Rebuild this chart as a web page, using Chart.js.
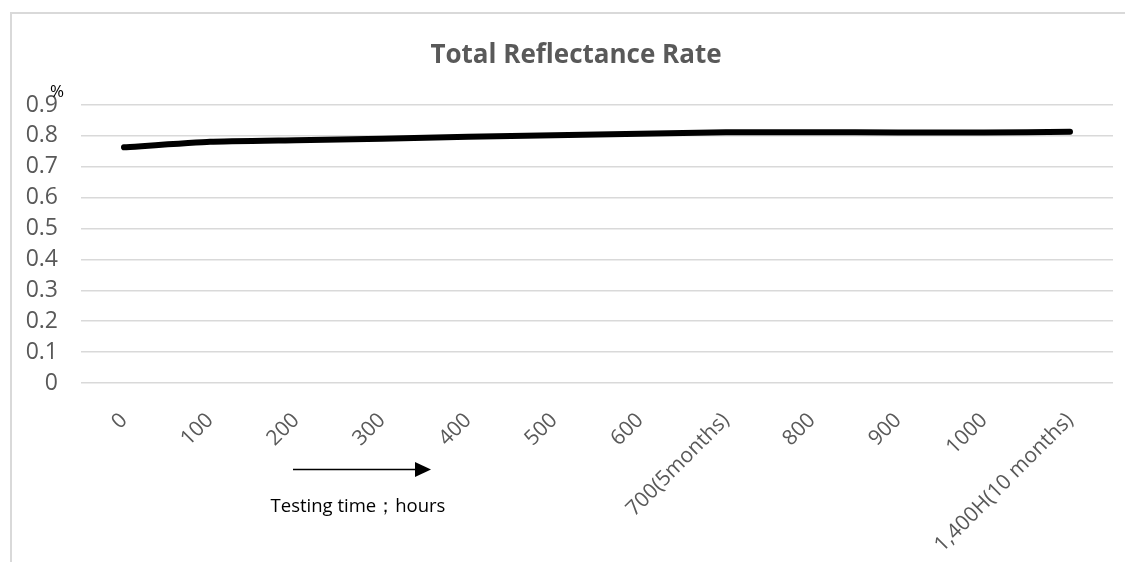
<!DOCTYPE html>
<html>
<head>
<meta charset="utf-8">
<script src="https://cdn.jsdelivr.net/npm/chart.js@4/dist/chart.umd.min.js"></script>
<style>
  html, body { margin: 0; padding: 0; background: #fff; }
  #wrap { position: relative; width: 1125px; height: 562px; }
</style>
</head>
<body>
<div id="wrap"><canvas id="chart" width="1125" height="562"></canvas></div>
<script>
'use strict';

// ─── Data ──────────────────────────────────────────────────────────────────────
const hourLabels = ['0', '100', '200', '300', '400', '500', '600', '700(5months)',
                    '800', '900', '1000', '1,400H(10 months)'];
const reflectance = [0.763, 0.781, 0.786, 0.791, 0.797, 0.802, 0.807, 0.812,
                     0.812, 0.811, 0.811, 0.813];
const yTicks = [0, 0.1, 0.2, 0.3, 0.4, 0.5, 0.6, 0.7, 0.8, 0.9];
const chartTitle = 'Total Reflectance Rate';

const FONT = "'Open Sans', 'DejaVu Sans', sans-serif";
const GREY = '#595959';
const GRID = '#d9d9d9';

// ─── Extras: frame, title, unit label, arrow + axis caption ───────────────────
const extras = {
  id: 'extras',
  beforeDraw(chart) {
    const ctx = chart.ctx;
    ctx.save();
    ctx.strokeStyle = GRID;
    ctx.lineWidth = 2;
    ctx.beginPath();
    ctx.moveTo(11, 600);
    ctx.lineTo(11, 13);
    ctx.lineTo(1200, 13);
    ctx.stroke();
    ctx.restore();
  },
  afterDraw(chart) {
    const ctx = chart.ctx;
    ctx.save();
    ctx.fillStyle = GREY;
    ctx.font = `bold 26px ${FONT}`;
    ctx.textAlign = 'center';
    ctx.textBaseline = 'middle';
    ctx.fillText(chartTitle, 576, 56);

    ctx.fillStyle = '#000';
    ctx.font = `17px ${FONT}`;
    ctx.textAlign = 'left';
    ctx.fillText('%', 50, 92);

    // arrow
    ctx.strokeStyle = '#000';
    ctx.lineWidth = 1.5;
    ctx.beginPath();
    ctx.moveTo(293, 469.5);
    ctx.lineTo(418, 469.5);
    ctx.stroke();
    ctx.beginPath();
    ctx.moveTo(431, 469.5);
    ctx.lineTo(415, 462);
    ctx.lineTo(415, 477);
    ctx.closePath();
    ctx.fill();

    ctx.font = `18.5px ${FONT}`;
    ctx.textAlign = 'center';
    ctx.fillText('Testing time；hours', 358, 507);
    ctx.restore();
  }
};

new Chart(document.getElementById('chart'), {
  type: 'line',
  data: {
    labels: hourLabels,
    datasets: [{
      label: chartTitle,
      data: reflectance,
      borderColor: '#000',
      borderWidth: 6,
      borderCapStyle: 'round',
      borderJoinStyle: 'round',
      pointRadius: 0,
      tension: 0.15,
      fill: false,
    }]
  },
  options: {
    responsive: false,
    animation: false,
    layout: { padding: { left: 11, right: 12, top: 105, bottom: 0 } },
    plugins: {
      legend: { display: false },
      tooltip: { enabled: false },
      title: { display: false }
    },
    scales: {
      x: {
        offset: true,
        grid: { display: false },
        border: { display: false },
        ticks: {
          color: GREY,
          font: { family: FONT, size: 21 },
          minRotation: 45,
          maxRotation: 45,
          autoSkip: false,
          padding: 17,
        },
        afterFit(scale) { scale.height = 179; }
      },
      y: {
        min: 0,
        max: 0.9,
        afterBuildTicks(scale) { scale.ticks = yTicks.map(v => ({ value: v })); },
        grid: { color: GRID, lineWidth: 1.5, drawTicks: false },
        border: { display: false },
        ticks: {
          color: GREY,
          font: { family: FONT, size: 23 },
          padding: 23,
          callback: v => String(Math.round(v * 10) / 10),
        },
        afterFit(scale) { scale.width = 70; }
      }
    }
  },
  plugins: [extras]
});
</script>
</body>
</html>
